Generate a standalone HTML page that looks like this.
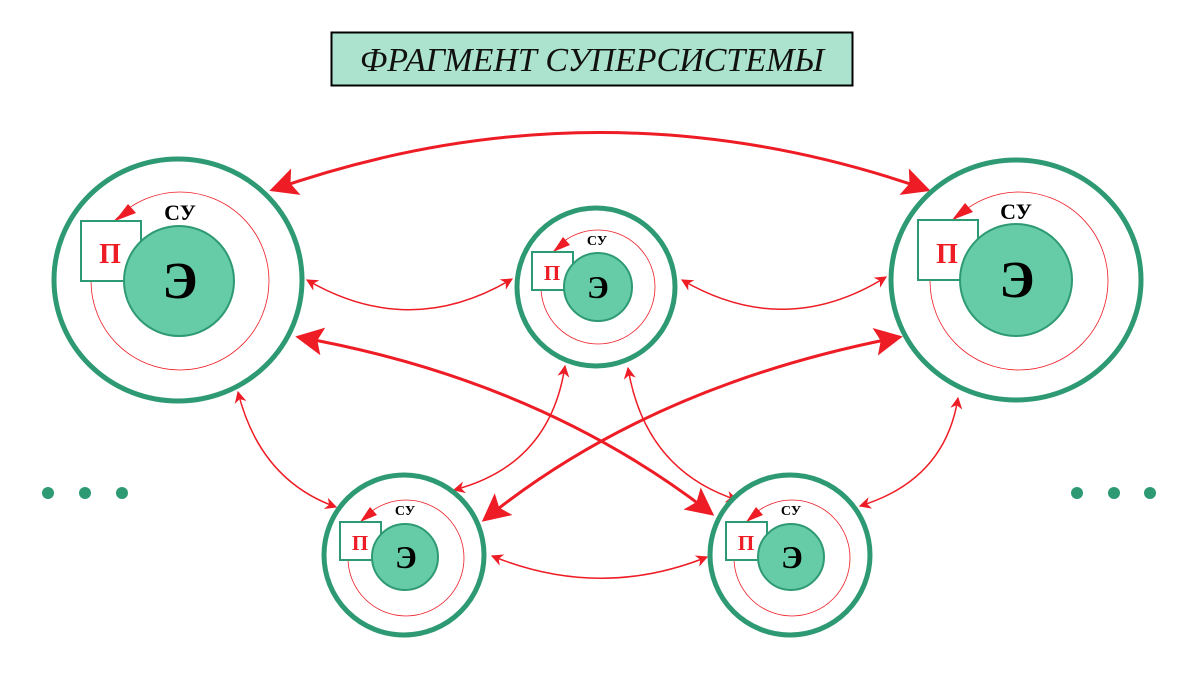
<!DOCTYPE html>
<html><head><meta charset="utf-8"><style>
html,body{margin:0;padding:0;background:#fff;width:1200px;height:674px;overflow:hidden}
svg{display:block}
</style></head><body>
<svg width="1200" height="674" viewBox="0 0 1200 674" xmlns="http://www.w3.org/2000/svg">
<defs>
<marker id="s" viewBox="0 0 10 10" refX="9" refY="5" markerWidth="16" markerHeight="12" markerUnits="userSpaceOnUse" orient="auto-start-reverse"><path d="M0,0 L10,5 L0,10 L3,5 z" fill="#ee1c25"/></marker>
<marker id="b" viewBox="0 0 10 10" refX="9" refY="5" markerWidth="44" markerHeight="28" markerUnits="userSpaceOnUse" orient="auto-start-reverse"><path d="M0,0 L10,5 L0,10 L2,5 z" fill="#ee1c25"/></marker>
</defs>
<rect x="331.5" y="32.5" width="521" height="53" fill="#ace3cf" stroke="#000" stroke-width="2"/>
<text x="592" y="71" text-anchor="middle" font-family="Liberation Serif, serif" font-style="italic" font-size="34" fill="#111">ФРАГМЕНТ СУПЕРСИСТЕМЫ</text>

<g fill="none" stroke="#ee1c25">
<path d="M272,190 Q600,75 928,190" stroke-width="3" marker-start="url(#b)" marker-end="url(#b)"/>
<path d="M298,337 Q540,380 712,514" stroke-width="3" marker-start="url(#b)" marker-end="url(#b)"/>
<path d="M900,337 Q650,385 484,520" stroke-width="3" marker-start="url(#b)" marker-end="url(#b)"/>
<path d="M307,280 Q410,340 512,279" stroke-width="1.5" marker-start="url(#s)" marker-end="url(#s)"/>
<path d="M682,280 Q785,340 886,277" stroke-width="1.5" marker-start="url(#s)" marker-end="url(#s)"/>
<path d="M238,392 Q260,480 336,507" stroke-width="1.5" marker-start="url(#s)" marker-end="url(#s)"/>
<path d="M565,366 Q550,465 454,490" stroke-width="1.5" marker-start="url(#s)" marker-end="url(#s)"/>
<path d="M628,368 Q645,470 737,500" stroke-width="1.5" marker-start="url(#s)" marker-end="url(#s)"/>
<path d="M958,398 Q945,480 860,506" stroke-width="1.5" marker-start="url(#s)" marker-end="url(#s)"/>
<path d="M492,556 Q600,600 707,557" stroke-width="1.5" marker-start="url(#s)" marker-end="url(#s)"/>
</g>

<g>
<ellipse cx="178" cy="280" rx="124" ry="121" fill="#fff" stroke="#2e9a73" stroke-width="5"/>
<circle cx="180" cy="281" r="89" fill="none" stroke="#ee1c25" stroke-width="0.8"/>
<path d="M115,221 L128,204 L136,213 z" fill="#ee1c25"/>
<rect x="81" y="221" width="60" height="60" fill="#fff" stroke="#2e9a73" stroke-width="2"/>
<circle cx="179" cy="281" r="55" fill="#66cca8" stroke="#2e9a73" stroke-width="2"/>
<text x="110" y="263" text-anchor="middle" font-family="Liberation Serif, serif" font-weight="bold" font-size="28" fill="#ee1c25">П</text>
<text x="180" y="298" text-anchor="middle" font-family="Liberation Serif, serif" font-weight="bold" font-size="52" fill="#000">Э</text>
<text x="180" y="220" text-anchor="middle" font-family="Liberation Serif, serif" font-weight="bold" font-size="22" fill="#000">СУ</text>
</g>
<g>
<ellipse cx="1016" cy="280" rx="125" ry="120" fill="#fff" stroke="#2e9a73" stroke-width="5"/>
<circle cx="1019" cy="281" r="89" fill="none" stroke="#ee1c25" stroke-width="0.8"/>
<path d="M952,220 L965,203 L973,212 z" fill="#ee1c25"/>
<rect x="918" y="220" width="60" height="60" fill="#fff" stroke="#2e9a73" stroke-width="2"/>
<circle cx="1016" cy="280" r="56" fill="#66cca8" stroke="#2e9a73" stroke-width="2"/>
<text x="947" y="263" text-anchor="middle" font-family="Liberation Serif, serif" font-weight="bold" font-size="28" fill="#ee1c25">П</text>
<text x="1017" y="297" text-anchor="middle" font-family="Liberation Serif, serif" font-weight="bold" font-size="52" fill="#000">Э</text>
<text x="1016" y="219" text-anchor="middle" font-family="Liberation Serif, serif" font-weight="bold" font-size="22" fill="#000">СУ</text>
</g>
<g>
<circle cx="596" cy="287" r="79" fill="#fff" stroke="#2e9a73" stroke-width="5"/>
<circle cx="598" cy="287" r="57" fill="none" stroke="#ee1c25" stroke-width="0.8"/>
<path d="M553,252 L563,237 L570,245 z" fill="#ee1c25"/>
<rect x="532" y="252" width="41" height="38" fill="#fff" stroke="#2e9a73" stroke-width="2"/>
<circle cx="598" cy="287" r="34" fill="#66cca8" stroke="#2e9a73" stroke-width="2"/>
<text x="552" y="280" text-anchor="middle" font-family="Liberation Serif, serif" font-weight="bold" font-size="21" fill="#ee1c25">П</text>
<text x="598" y="298" text-anchor="middle" font-family="Liberation Serif, serif" font-weight="bold" font-size="32" fill="#000">Э</text>
<text x="597" y="245" text-anchor="middle" font-family="Liberation Serif, serif" font-weight="bold" font-size="14" fill="#000">СУ</text>
</g>
<g>
<circle cx="404" cy="555" r="80" fill="#fff" stroke="#2e9a73" stroke-width="5"/>
<circle cx="406" cy="558" r="58" fill="none" stroke="#ee1c25" stroke-width="0.8"/>
<path d="M360,522 L370,507 L377,515 z" fill="#ee1c25"/>
<rect x="340" y="522" width="41" height="38" fill="#fff" stroke="#2e9a73" stroke-width="2"/>
<circle cx="405" cy="557" r="33" fill="#66cca8" stroke="#2e9a73" stroke-width="2"/>
<text x="360" y="550" text-anchor="middle" font-family="Liberation Serif, serif" font-weight="bold" font-size="21" fill="#ee1c25">П</text>
<text x="406" y="568" text-anchor="middle" font-family="Liberation Serif, serif" font-weight="bold" font-size="32" fill="#000">Э</text>
<text x="405" y="515" text-anchor="middle" font-family="Liberation Serif, serif" font-weight="bold" font-size="14" fill="#000">СУ</text>
</g>
<g>
<circle cx="790" cy="555" r="80" fill="#fff" stroke="#2e9a73" stroke-width="5"/>
<circle cx="792" cy="558" r="58" fill="none" stroke="#ee1c25" stroke-width="0.8"/>
<path d="M746,522 L756,507 L763,515 z" fill="#ee1c25"/>
<rect x="726" y="522" width="41" height="38" fill="#fff" stroke="#2e9a73" stroke-width="2"/>
<circle cx="791" cy="557" r="33" fill="#66cca8" stroke="#2e9a73" stroke-width="2"/>
<text x="746" y="550" text-anchor="middle" font-family="Liberation Serif, serif" font-weight="bold" font-size="21" fill="#ee1c25">П</text>
<text x="792" y="568" text-anchor="middle" font-family="Liberation Serif, serif" font-weight="bold" font-size="32" fill="#000">Э</text>
<text x="791" y="515" text-anchor="middle" font-family="Liberation Serif, serif" font-weight="bold" font-size="14" fill="#000">СУ</text>
</g>
<g fill="#2e9a73">
<circle cx="48" cy="493" r="6"/><circle cx="85" cy="493" r="6"/><circle cx="122" cy="493" r="6"/>
<circle cx="1077" cy="493" r="6"/><circle cx="1114" cy="493" r="6"/><circle cx="1150" cy="493" r="6"/>
</g>
</svg>
</body></html>
